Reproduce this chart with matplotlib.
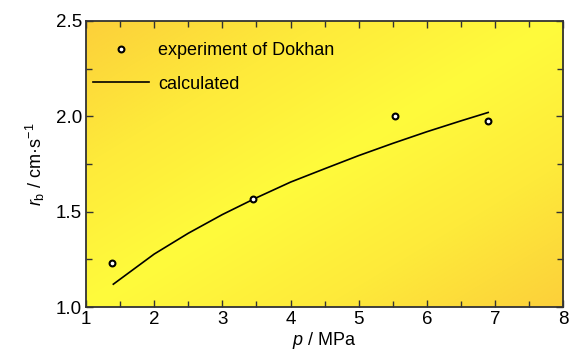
import matplotlib
matplotlib.use("Agg")
import matplotlib.pyplot as plt
import numpy as np
from matplotlib.colors import LinearSegmentedColormap
from matplotlib.ticker import MultipleLocator

plt.rcParams['font.family'] = ['Liberation Sans', 'DejaVu Sans']
plt.rcParams['mathtext.fontset'] = 'custom'
plt.rcParams['mathtext.rm'] = 'Liberation Sans'
plt.rcParams['mathtext.it'] = 'Liberation Sans:italic'

# Data
exp_p = [1.38, 3.45, 5.53, 6.90]
exp_rb = [1.23, 1.566, 2.00, 1.975]
calc_p = [1.4, 2.0, 2.5, 3.0, 3.5, 4.0, 4.5, 5.0, 5.5, 6.0, 6.5, 6.9]
calc_rb = [1.12, 1.278, 1.387, 1.485, 1.573, 1.655, 1.725, 1.794, 1.858, 1.919, 1.976, 2.02]
xlabel = '$p$ / MPa'
ylabel = '$r_{\\rm b}$ / cm·s$^{-1}$'
legend_labels = ['experiment of Dokhan', 'calculated']

fig = plt.figure(figsize=(5.7, 3.6), dpi=100)
ax = fig.add_axes([0.151, 0.147, 0.837, 0.795])
ax.set_xlim(1, 8)
ax.set_ylim(1.0, 2.5)

# background gradient: orange corners (top-left, bottom-right), yellow diagonal
n = 200
gx, gy = np.meshgrid(np.linspace(0, 1, n), np.linspace(0, 1, n))
d = np.abs((gx + gy) - 1.0)  # 0 on anti-diagonal
cmap = LinearSegmentedColormap.from_list('yg', ['#FFFB3C', '#FEEA3A', '#FCD03A'])
ax.imshow(d, cmap=cmap, extent=[1, 8, 1.0, 2.5], origin='upper', aspect='auto',
          vmin=0, vmax=1, zorder=0, interpolation='bilinear')

ax.plot(calc_p, calc_rb, color='black', lw=1.2, zorder=3, label=legend_labels[1])
ax.plot(exp_p, exp_rb, linestyle='none', marker='o', ms=4.2, mfc='white', mec='black',
        mew=1.5, zorder=4, label=legend_labels[0])

ax.xaxis.set_major_locator(MultipleLocator(1))
ax.xaxis.set_minor_locator(MultipleLocator(0.5))
ax.yaxis.set_major_locator(MultipleLocator(0.5))
ax.yaxis.set_minor_locator(MultipleLocator(0.25))
ax.yaxis.set_major_formatter(matplotlib.ticker.FormatStrFormatter('%.1f'))
ax.tick_params(which='both', direction='in', top=True, right=True, labelsize=13.5,
               width=1.0, color='#333333', pad=3)
ax.tick_params(which='major', length=5)
ax.tick_params(which='minor', length=4)
for s in ax.spines.values():
    s.set_linewidth(1.3)
    s.set_color('#333333')

ax.set_xlabel(xlabel, fontsize=13, labelpad=1)
ax.set_ylabel(ylabel, fontsize=13, labelpad=6)

h, l = ax.get_legend_handles_labels()
ax.legend([h[1], h[0]], [l[1], l[0]], loc='upper left', frameon=False, fontsize=13,
          handlelength=3.1, handletextpad=0.5, borderaxespad=0.0, labelspacing=0.9,
          bbox_to_anchor=(0.0, 0.95))

fig.savefig('out.png', dpi=100)
